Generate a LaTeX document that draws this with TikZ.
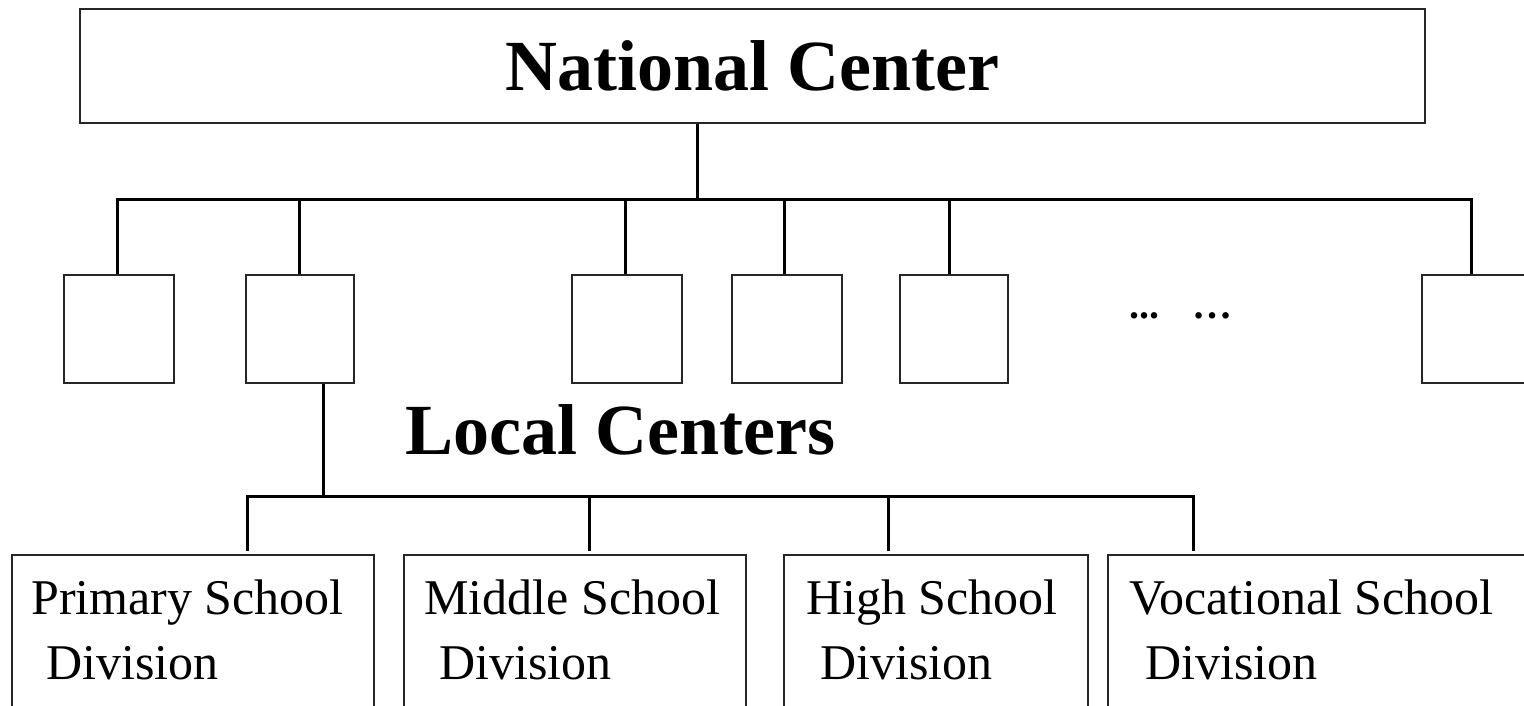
\documentclass[tikz,border=0pt]{standalone}
\usepackage{fontspec}
\setmainfont{Liberation Serif}
\usetikzlibrary{calc}
\begin{document}
\begin{tikzpicture}[x=1pt,y=-1pt,
  box/.style={draw=black!85, line width=1.8pt, fill=white, inner sep=0pt},
  lbox/.style={box, minimum width=108pt, minimum height=108pt},
  conn/.style={draw=black, line width=3pt},
  title/.style={font=\fontsize{72}{80}\selectfont\bfseries},
  divtext/.style={font=\fontsize{50}{65}\selectfont, align=left, anchor=base west, inner sep=0pt}]
\useasboundingbox (0,0) rectangle (1524,706);
\fill[white] (0,0) rectangle (1524,706);
\clip (0,0) rectangle (1524,706);

% National center
\node[box, minimum width=1345pt, minimum height=114pt, title] (nat) at (752.5,66) {National Center};

% Local centers
\node[lbox, minimum width=110pt] (l1) at (119,329) {};
\node[lbox] (l2) at (300,329) {};
\node[lbox, minimum width=110pt] (l3) at (627,329) {};
\node[lbox, minimum width=110pt] (l4) at (787,329) {};
\node[lbox] (l5) at (954,329) {};
\node[lbox] (l6) at (1476,329) {};
\node[font=\fontsize{40}{42}\selectfont\bfseries, anchor=base west, inner sep=0pt] (dots) at (1129,318) {...\hspace{33pt}…};

\coordinate (j1) at (697,199);
\draw[conn] (nat.south -| j1) -- (j1);
\draw[conn] ([xshift=-2pt]l1.north) -- ([xshift=-2pt]l1.north |- j1) -- ([xshift=-5pt]l6.north |- j1) -- ([xshift=-5pt]l6.north);
\draw[conn] ([xshift=-1pt]l2.north) -- ([xshift=-1pt]l2.north |- j1);
\draw[conn] ([xshift=-2pt]l3.north) -- ([xshift=-2pt]l3.north |- j1);
\draw[conn] ([xshift=-3pt]l4.north) -- ([xshift=-3pt]l4.north |- j1);
\draw[conn] ([xshift=-5pt]l5.north) -- ([xshift=-5pt]l5.north |- j1);

\node[title, anchor=base west, inner sep=0pt] (lc) at (405,454) {Local Centers};

% Divisions
\node[box, minimum width=362pt, minimum height=205pt] (pa) at (193,657.5) {};
\node[box, minimum width=342pt, minimum height=205pt] (pb) at (575,657.5) {};
\node[box, minimum width=304pt, minimum height=205pt] (pc) at (936,657.5) {};
\node[box, minimum width=452pt, minimum height=205pt] (pd) at (1334,657.5) {};

\coordinate (j2) at (323.5,496);
\draw[conn] (j2 |- l2.south) -- (j2);
\coordinate (dA) at (247.5,496);
\coordinate (dB) at (589,496);
\coordinate (dC) at (888,496);
\coordinate (dD) at (1193,496);
\draw[conn, shorten <=3.5pt, shorten >=3.5pt] (dA |- pa.north) -- (dA) -- (dD) -- (dD |- pd.north);
\draw[conn, shorten <=3.5pt] (dB |- pb.north) -- (dB);
\draw[conn, shorten <=3.5pt] (dC |- pc.north) -- (dC);

\node[divtext] (ta) at ($(pa.north west)+(20,125)$) {Primary School\\\hspace*{15pt}Division};
\node[divtext] (tb) at ($(pb.north west)+(21,125)$) {Middle School\\\hspace*{15pt}Division};
\node[divtext] (tc) at ($(pc.north west)+(23,125)$) {High School\\\hspace*{14pt}Division};
\node[divtext] (td) at ($(pd.north west)+(22,125)$) {Vocational School\\\hspace*{16pt}Division};
\end{tikzpicture}
\end{document}
